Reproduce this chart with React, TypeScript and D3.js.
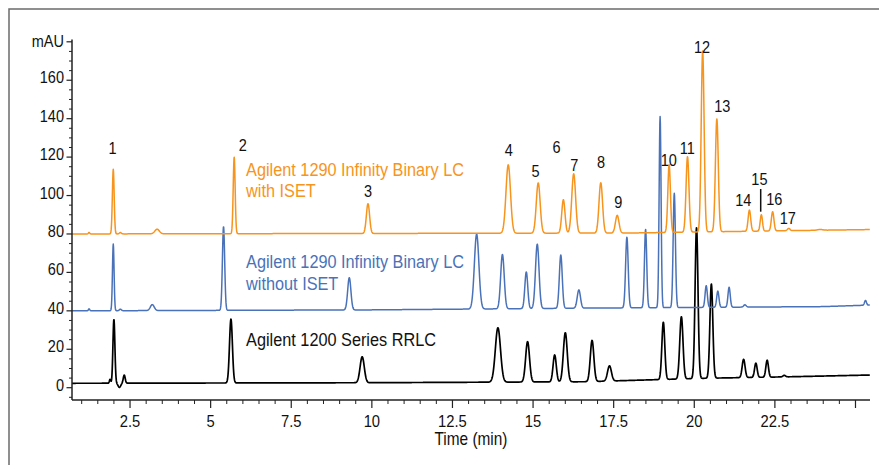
import React, { useEffect, useRef } from 'react'
import * as d3 from 'd3'

// retention time (min), height above baseline (mAU), peak sigma (min)
const orangeTimes = [1.23, 1.98, 2.2, 3.34, 5.73, 9.88, 14.23, 15.16, 15.94, 16.26, 17.1, 17.61, 19.22, 19.79, 20.26, 20.7, 21.71, 22.08, 22.43, 22.93, 23.9]
const orangeHeights = [0.8, 33.7, 0.7, 2.4, 39.9, 15.5, 35.6, 26.2, 17.4, 30.9, 26.2, 9.2, 35.2, 39.3, 94.2, 58.7, 11, 8.5, 10, 1.2, 0.4]
const orangeSigmas = [0.02, 0.028, 0.03, 0.07, 0.03, 0.05, 0.07, 0.06, 0.05, 0.06, 0.055, 0.055, 0.04, 0.045, 0.045, 0.045, 0.04, 0.035, 0.04, 0.04, 0.08]
const orangeDriftT = [0.7, 18, 23.3, 25.45]
const orangeDriftV = [80, 80.5, 81.8, 82.3]

const blueTimes = [1.23, 1.98, 2.2, 3.19, 5.4, 9.3, 13.25, 14.05, 14.79, 15.13, 15.86, 16.42, 17.91, 18.49, 18.94, 19.38, 20.37, 20.73, 21.08, 21.57, 25.31]
const blueHeights = [1, 34.7, 0.8, 3.1, 43.7, 16.8, 39, 28.3, 19.1, 33.5, 27.7, 9.5, 36.8, 40.8, 99.5, 59.5, 11.3, 8.4, 10.4, 1.2, 2.5]
const blueSigmas = [0.02, 0.025, 0.03, 0.06, 0.035, 0.05, 0.07, 0.055, 0.045, 0.055, 0.045, 0.05, 0.04, 0.035, 0.03, 0.035, 0.035, 0.035, 0.035, 0.04, 0.03]
const blueDriftT = [0.7, 10, 16.5, 24, 25.45]
const blueDriftV = [40, 40.5, 41.4, 42.2, 43]

const blackTimes = [1.88, 2.0, 2.17, 2.32, 5.63, 9.7, 13.91, 14.83, 15.67, 16.0, 16.83, 17.37, 19.04, 19.6, 20.07, 20.53, 21.53, 21.91, 22.26, 22.79]
const blackHeights = [2, 33.3, -2.2, 4.2, 33.3, 13.5, 28.3, 21, 14, 25.6, 21.4, 7.9, 29.8, 32.4, 78.5, 49, 9.5, 7.4, 8.8, 0.8]
const blackSigmas = [0.02, 0.03, 0.04, 0.03, 0.045, 0.065, 0.08, 0.06, 0.05, 0.06, 0.055, 0.06, 0.045, 0.05, 0.045, 0.045, 0.045, 0.04, 0.04, 0.04]
const blackDriftT = [0.7, 10, 16.6, 20.3, 23, 25.45]
const blackDriftV = [2.3, 2.6, 3.1, 4.9, 5.7, 6.6]

// peak number annotations (time, mAU at text baseline)
const peakLabels = ['1', '2', '3', '4', '5', '6', '7', '8', '9', '10', '11', '12', '13', '14', '15', '16', '17']
const peakLabelT = [1.956, 6.0, 9.88, 14.25, 15.08, 15.73, 16.28, 17.11, 17.64, 19.21, 19.78, 20.24, 20.87, 21.52, 22.02, 22.48, 22.9]
const peakLabelV = [121.6, 123.2, 99.2, 120.6, 109.8, 122, 112.8, 114.2, 93.7, 115.4, 121.5, 174.3, 143.3, 94.7, 105.5, 95.1, 85]

const seriesNames = [
  ['Agilent 1290 Infinity Binary LC', 'with ISET'],
  ['Agilent 1290 Infinity Binary LC', 'without ISET'],
  ['Agilent 1200 Series RRLC'],
]
const seriesNameV = [[110.2, 99.2], [62.1, 50.8], [21.7]]
const seriesNameT = 6.1

const xTicks = [2.5, 5, 7.5, 10, 12.5, 15, 17.5, 20, 22.5, 25]
const yTicks = [0, 20, 40, 60, 80, 100, 120, 140, 160, 180]

const FONT = '"Liberation Sans", Arial, sans-serif'
const SQUEEZE = 0.88 // condensed look

export default function App() {
  const svgRef = useRef<SVGSVGElement | null>(null)
  const width = 879
  const height = 465

  useEffect(() => {
    const svg = d3.select(svgRef.current)
    svg.selectAll('*').remove()

    const x = d3.scaleLinear().domain([0.7, 25.45]).range([72, 870])
    const y = d3.scaleLinear().domain([-6.4, 181.2]).range([400, 39.5])

    const label = (g: any, px: number, py: number, txt: string, size: number, color = '#111', anchor = 'start') =>
      g.append('text')
        .attr('transform', `translate(${px},${py}) scale(${SQUEEZE},1)`)
        .attr('text-anchor', anchor)
        .attr('font-family', FONT)
        .attr('font-size', size)
        .attr('fill', color)
        .text(txt)

    svg.append('rect').attr('width', width).attr('height', height).attr('fill', '#fff')

    // frame
    svg.append('path')
      .attr('d', 'M9,470 L9,9 L885,9')
      .attr('fill', 'none')
      .attr('stroke', '#6b6b6b')
      .attr('stroke-width', 1.5)

    const ts = d3.range(0.7, 25.451, 0.008)
    const trace = (times: number[], heights: number[], sigmas: number[], dT: number[], dV: number[]) => {
      const drift = d3.scaleLinear().domain(dT).range(dV)
      return ts.map(t => {
        let v = drift(t)
        times.forEach((rt, i) => {
          const z = (t - rt) / sigmas[i]
          if (Math.abs(z) < 8) v += heights[i] * Math.exp(-0.5 * z * z)
        })
        return [t, v] as [number, number]
      })
    }
    const line = d3.line<[number, number]>().x(d => x(d[0])).y(d => y(d[1]))

    const traces = [
      { pts: trace(blackTimes, blackHeights, blackSigmas, blackDriftT, blackDriftV), color: '#000', w: 1.7 },
      { pts: trace(blueTimes, blueHeights, blueSigmas, blueDriftT, blueDriftV), color: '#4a72b8', w: 1.5 },
      { pts: trace(orangeTimes, orangeHeights, orangeSigmas, orangeDriftT, orangeDriftV), color: '#f7941d', w: 1.5 },
    ]
    traces.forEach(tr => {
      svg.append('path')
        .attr('d', line(tr.pts))
        .attr('fill', 'none')
        .attr('stroke', tr.color)
        .attr('stroke-width', tr.w)
        .attr('stroke-linejoin', 'round')
    })

    // axes
    const axisColor = '#222'
    const xAxis = svg.append('g')
    xAxis.append('line').attr('x1', 72).attr('x2', 870).attr('y1', 400).attr('y2', 400)
      .attr('stroke', axisColor).attr('stroke-width', 1.5)
    xAxis.selectAll('.minor').data(d3.range(1, 25.3, 0.5).filter(t => !xTicks.includes(t))).join('line')
      .attr('x1', d => x(d)).attr('x2', d => x(d)).attr('y1', 400).attr('y2', 404)
      .attr('stroke', axisColor).attr('stroke-width', 1)
    xAxis.selectAll('.major').data(xTicks).join('line')
      .attr('x1', d => x(d)).attr('x2', d => x(d)).attr('y1', 400).attr('y2', 408)
      .attr('stroke', axisColor).attr('stroke-width', 1.2)
    xTicks.filter(t => t < 25).forEach(t => label(xAxis, x(t), 426.5, String(t), 16.8, '#111', 'middle'))
    label(svg, 471, 445, 'Time (min)', 17.5, '#111', 'middle')

    const yAxis = svg.append('g')
    yAxis.append('line').attr('x1', 72).attr('x2', 72).attr('y1', 400).attr('y2', 39.5)
      .attr('stroke', axisColor).attr('stroke-width', 1.5)
    yAxis.selectAll('.minor').data(d3.range(-5, 180, 5).filter(v => !yTicks.includes(v))).join('line')
      .attr('x1', 69).attr('x2', 72).attr('y1', d => y(d)).attr('y2', d => y(d))
      .attr('stroke', axisColor).attr('stroke-width', 1)
    yAxis.selectAll('.major').data(yTicks).join('line')
      .attr('x1', 66.5).attr('x2', 72).attr('y1', d => y(d)).attr('y2', d => y(d))
      .attr('stroke', axisColor).attr('stroke-width', 1.2)
    yTicks.forEach(v => label(yAxis, 64, y(v) + (v === 180 ? 5.5 : 3), v === 180 ? 'mAU' : String(v), 16.5, '#111', 'end'))

    // peak numbers
    const peaks = svg.append('g')
    peakLabels.forEach((p, i) => label(peaks, x(peakLabelT[i]), y(peakLabelV[i]), p, 16.5, '#111', 'middle'))
    peaks.append('line')
      .attr('x1', x(22.06)).attr('x2', x(22.06)).attr('y1', y(103.4)).attr('y2', y(91.6))
      .attr('stroke', '#111').attr('stroke-width', 1.5)

    // series names
    const nameColors = ['#f7941d', '#4a72b8', '#111']
    const names = svg.append('g')
    seriesNames.forEach((lines, i) => {
      lines.forEach((txt, j) => label(names, x(seriesNameT), y(seriesNameV[i][j]), txt, 18.5, nameColors[i]))
    })
  }, [])

  return (
    <svg ref={svgRef} width={width} height={height}
      style={{ position: 'absolute', left: 0, top: 0, display: 'block' }}></svg>
  )
}
